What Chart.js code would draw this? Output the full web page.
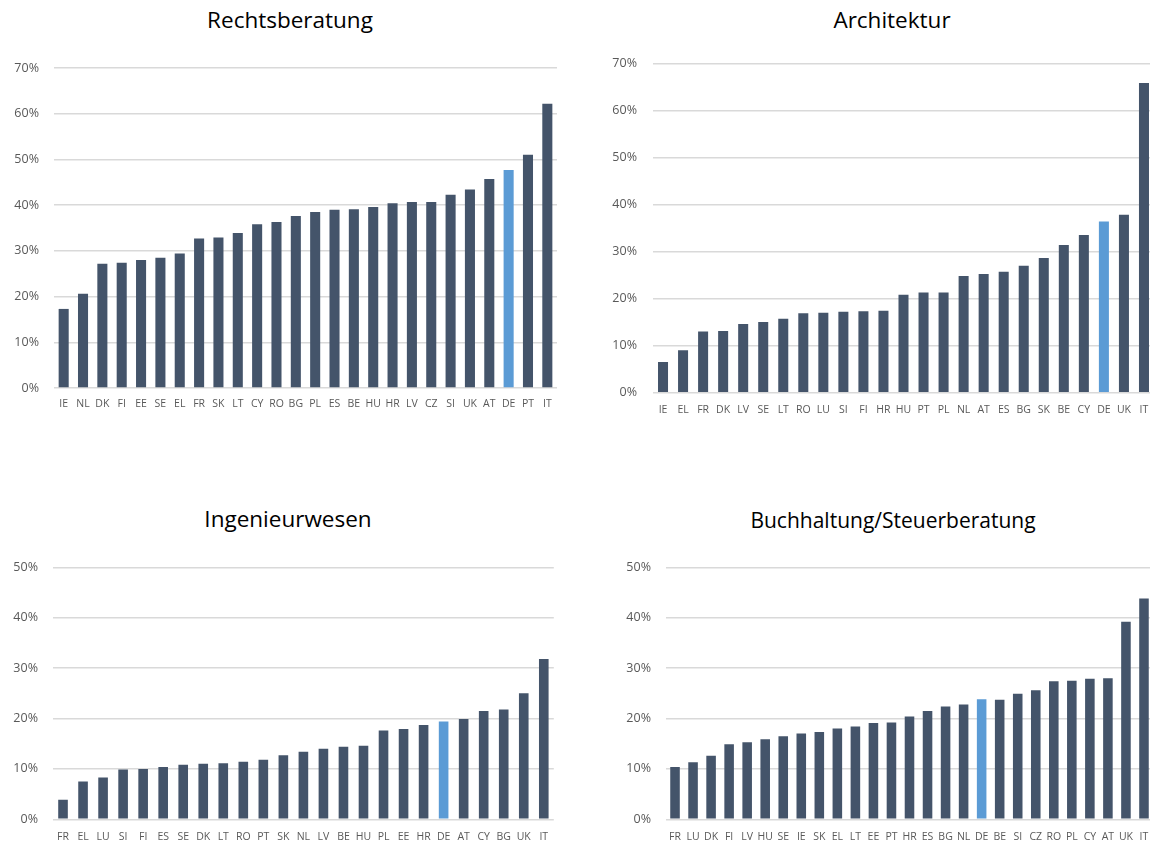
<!DOCTYPE html>
<html>
<head>
<meta charset="utf-8">
<script src="https://cdn.jsdelivr.net/npm/chart.js@4.4.1/dist/chart.umd.min.js"></script>
<style>
  html, body { margin: 0; padding: 0; background: #fff; width: 1150px; height: 845px; overflow: hidden; position: relative; }
  .panel { position: absolute; }
  .title { position: absolute; font-family: "Open Sans", Lato, sans-serif; font-weight: 400; font-size: 22.5px; color: #000; white-space: nowrap; transform: translate(-50%, -50%); line-height: 1; }
  .title.long { font-size: 21px; }
</style>
</head>
<body>
<div class="title" style="left:290px; top:20px;">Rechtsberatung</div>
<div class="title" style="left:892px; top:20px;">Architektur</div>
<div class="title" style="left:288px; top:519px;">Ingenieurwesen</div>
<div class="title long" style="left:893px; top:520px;">Buchhaltung/Steuerberatung</div>

<div class="panel" style="left:0px; top:0px;"><canvas id="chartRecht" width="575" height="420"></canvas></div>
<div class="panel" style="left:575px; top:0px;"><canvas id="chartArch" width="590" height="425"></canvas></div>
<div class="panel" style="left:0px; top:500px;"><canvas id="chartIng" width="575" height="345"></canvas></div>
<div class="panel" style="left:575px; top:500px;"><canvas id="chartBuch" width="590" height="345"></canvas></div>

<script>
// Rechtsberatung
const rechtCountries = ['IE','NL','DK','FI','EE','SE','EL','FR','SK','LT','CY','RO','BG','PL','ES','BE','HU','HR','LV','CZ','SI','UK','AT','DE','PT','IT'];
const rechtValues = [17.3, 20.6, 27.2, 27.4, 28.0, 28.5, 29.4, 32.7, 32.9, 33.9, 35.8, 36.3, 37.6, 38.5, 39.0, 39.1, 39.6, 40.4, 40.7, 40.7, 42.3, 43.4, 45.7, 47.7, 51.0, 62.2];

// Architektur
const archCountries = ['IE','EL','FR','DK','LV','SE','LT','RO','LU','SI','FI','HR','HU','PT','PL','NL','AT','ES','BG','SK','BE','CY','DE','UK','IT'];
const archValues = [6.5, 9.0, 13.0, 13.1, 14.6, 15.0, 15.7, 16.9, 17.0, 17.2, 17.3, 17.4, 20.8, 21.3, 21.3, 24.8, 25.2, 25.7, 27.0, 28.6, 31.4, 33.5, 36.4, 37.8, 65.8];

// Ingenieurwesen
const ingCountries = ['FR','EL','LU','SI','FI','ES','SE','DK','LT','RO','PT','SK','NL','LV','BE','HU','PL','EE','HR','DE','AT','CY','BG','UK','IT'];
const ingValues = [3.9, 7.5, 8.3, 9.9, 10.0, 10.4, 10.8, 11.0, 11.1, 11.4, 11.8, 12.7, 13.4, 14.0, 14.4, 14.6, 17.6, 17.9, 18.7, 19.4, 19.9, 21.5, 21.8, 25.0, 31.8];

// Buchhaltung/Steuerberatung
const buchCountries = ['FR','LU','DK','FI','LV','HU','SE','IE','SK','EL','LT','EE','PT','HR','ES','BG','NL','DE','BE','SI','CZ','RO','PL','CY','AT','UK','IT'];
const buchValues = [10.4, 11.3, 12.6, 14.9, 15.3, 15.9, 16.5, 17.0, 17.3, 18.0, 18.4, 19.1, 19.2, 20.4, 21.5, 22.4, 22.8, 23.8, 23.7, 24.9, 25.6, 27.4, 27.5, 27.9, 28.0, 39.2, 43.8];

// Axis ranges (percent)
const rechtTicks = { max: 70, step: 10 };
const archTicks  = { max: 70, step: 10 };
const ingTicks   = { max: 50, step: 10 };
const buchTicks  = { max: 50, step: 10 };

const HIGHLIGHT = 'DE';
const BAR_COLOR = '#44546A';
const HIGHLIGHT_COLOR = '#5B9BD5';
const GRID_COLOR = '#D9D9D9';
const TEXT_COLOR = '#595959';
const FONT = '"Open Sans", Lato, sans-serif';

// box: plot area inside each canvas (canvas-relative px)
function makeChart(id, countries, values, ticks, box) {
  const canvas = document.getElementById(id);
  const W = canvas.width, H = canvas.height;
  return new Chart(canvas, {
    type: 'bar',
    data: {
      labels: countries,
      datasets: [{
        data: values,
        backgroundColor: countries.map(c => c === HIGHLIGHT ? HIGHLIGHT_COLOR : BAR_COLOR),
        borderWidth: 0,
        categoryPercentage: 1,
        barPercentage: box.bar
      }]
    },
    options: {
      responsive: false,
      animation: false,
      devicePixelRatio: 1,
      layout: { padding: { top: box.top, right: W - box.right, left: 0, bottom: 0 } },
      plugins: { legend: { display: false }, tooltip: { enabled: false }, title: { display: false } },
      scales: {
        x: {
          offset: true,
          grid: { display: false, drawTicks: false },
          border: { display: false },
          ticks: {
            autoSkip: false, maxRotation: 0, minRotation: 0,
            padding: box.xPad,
            color: TEXT_COLOR,
            font: { family: FONT, size: 10.5 }
          },
          afterFit: s => { s.height = H - box.bottom; }
        },
        y: {
          min: 0, max: ticks.max,
          grid: { color: GRID_COLOR, lineWidth: 1.5, drawTicks: false },
          border: { display: false },
          ticks: {
            stepSize: ticks.step,
            padding: box.yPad,
            color: TEXT_COLOR,
            font: { family: FONT, size: 12.5 },
            callback: v => v + '%'
          },
          afterFit: s => { s.width = box.left; }
        }
      }
    }
  });
}

makeChart('chartRecht', rechtCountries, rechtValues, rechtTicks,
  { left: 54, right: 557, top: 68, bottom: 388, xPad: 10, yPad: 15, bar: 0.52 });
makeChart('chartArch', archCountries, archValues, archTicks,
  { left: 78, right: 579, top: 63.3, bottom: 392.7, xPad: 11, yPad: 16, bar: 0.5 });
makeChart('chartIng', ingCountries, ingValues, ingTicks,
  { left: 53, right: 553.8, top: 67.3, bottom: 319.3, xPad: 11, yPad: 15, bar: 0.48 });
makeChart('chartBuch', buchCountries, buchValues, buchTicks,
  { left: 91, right: 578, top: 67.3, bottom: 319.3, xPad: 11, yPad: 15, bar: 0.53 });
</script>
</body>
</html>
